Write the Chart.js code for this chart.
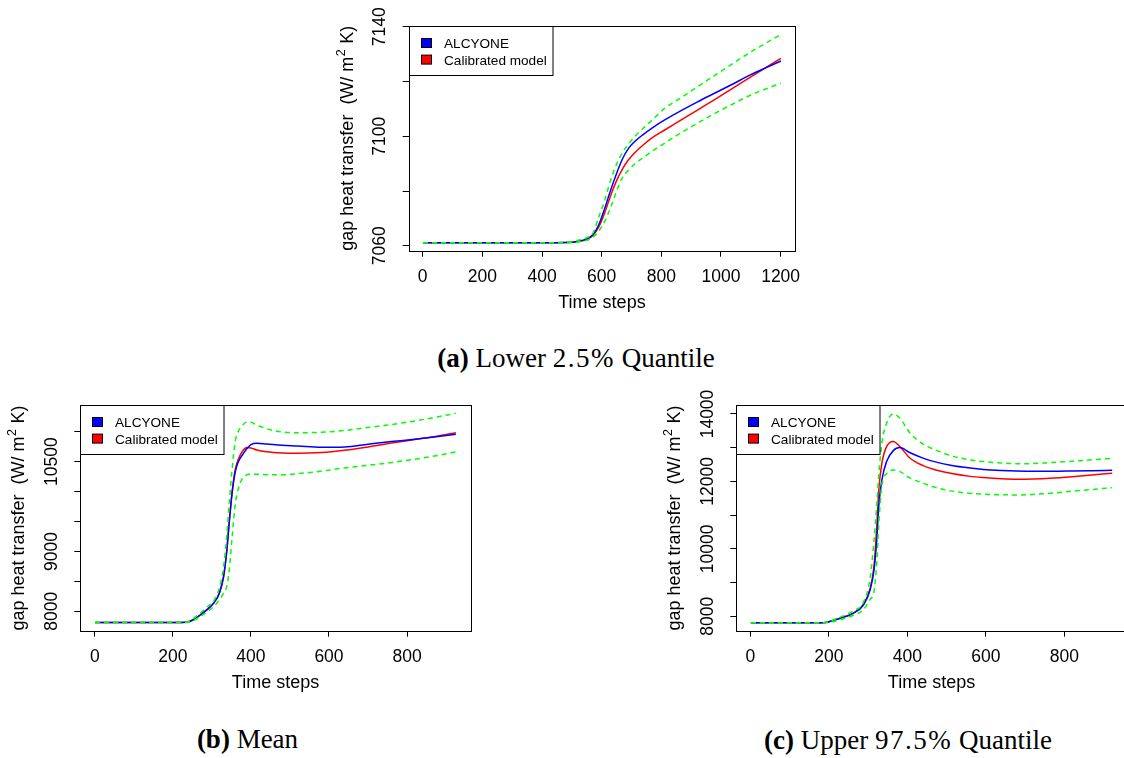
<!DOCTYPE html>
<html>
<head>
<meta charset="utf-8">
<script src="https://cdn.jsdelivr.net/npm/chart.js@4.4.1/dist/chart.umd.min.js"></script>
<style>
html,body{margin:0;padding:0;background:#fff;overflow:hidden;width:1124px;height:758px;position:relative}
.panel{position:absolute}
.panel canvas{display:block}
.cap{position:absolute;font-family:"Liberation Serif","Times New Roman",serif;font-size:27px;line-height:30px;color:#000;white-space:nowrap;transform:translateX(-50%)}
.cap .m{letter-spacing:1.5px}
</style>
</head>
<body>
<div class="panel" style="left:330px;top:0px;width:480px;height:320px"><canvas id="chartA" width="480" height="320"></canvas></div>
<div class="panel" style="left:0px;top:390px;width:490px;height:320px"><canvas id="chartB" width="490" height="320"></canvas></div>
<div class="panel" style="left:650px;top:390px;width:490px;height:320px"><canvas id="chartC" width="490" height="320"></canvas></div>
<div class="cap" style="left:576px;top:343.2px"><b>(a)</b> Lower <span class="m">2.5%</span> Quantile</div>
<div class="cap" style="left:247.5px;top:724.2px"><b>(b)</b> Mean</div>
<div class="cap" style="left:908px;top:725.2px"><b>(c)</b> Upper <span class="m">97.5%</span> Quantile</div>
<script>
// ---------- shared text ----------
const legendLabels = ['ALCYONE', 'Calibrated model'];
const xTitle = 'Time steps';
const yTitleMain = 'gap heat transfer  (W/ m';
const yTitleSup = '2';
const yTitleTail = ' K)';

// ---------- panel (a): Lower 2.5% quantile ----------
const timeA = [1,100,200,300,400,480,520,550,570,590,610,630,650,670,690,710,740,770,810,860,920,980,1040,1100,1150,1201];
const alcyoneA = [7061.1,7061.1,7061.1,7061.1,7061.1,7061.2,7061.6,7062.5,7064.0,7067.6,7073.6,7080.3,7086.4,7091.8,7095.6,7098.0,7100.7,7103.1,7105.9,7109.0,7112.5,7115.8,7119.1,7122.5,7125.0,7127.5];
const calibratedA = [7061.1,7061.1,7061.1,7061.1,7061.1,7061.2,7061.6,7062.3,7063.7,7066.8,7072.0,7078.3,7083.8,7088.1,7091.4,7093.9,7096.9,7099.5,7102.2,7105.5,7109.5,7113.5,7117.6,7121.7,7125.1,7128.5];
const upperA = [7061.1,7061.1,7061.1,7061.1,7061.1,7061.3,7062.0,7063.0,7064.4,7070.5,7076.5,7084.0,7089.8,7094.1,7097.2,7099.8,7103.0,7106.0,7110.1,7113.7,7118.0,7122.3,7126.6,7130.8,7134.0,7137.2];
const lowerA = [7061.1,7061.1,7061.1,7061.1,7061.1,7061.1,7061.4,7062.0,7063.0,7065.3,7068.9,7074.0,7080.0,7085.0,7087.6,7089.8,7092.2,7094.6,7097.4,7100.9,7104.7,7108.4,7111.8,7115.1,7117.3,7119.4];
const xTicksA = [0,200,400,600,800,1000,1200];
const yTicksA = [7060,7080,7100,7120,7140];
const yLabelsA = ['7060','','7100','','7140'];

// ---------- panel (b): Mean ----------
const timeB = [1,100,200,235,250,270,290,305,320,330,338,345,352,360,368,378,390,400,415,440,480,520,580,640,700,760,820,880,925];
const alcyoneB = [7815,7815,7815,7818,7850,7938,8040,8140,8320,8580,9000,9520,9980,10330,10500,10610,10720,10785,10806,10795,10775,10762,10740,10745,10790,10835,10875,10920,10957];
const calibratedB = [7815,7815,7815,7818,7850,7938,8040,8140,8320,8580,9000,9530,10010,10370,10545,10670,10735,10728,10694,10665,10645,10640,10652,10690,10745,10810,10870,10930,10983];
const upperB = [7815,7815,7815,7820,7870,7970,8085,8175,8411,8750,9250,9850,10380,10840,11010,11100,11165,11160,11112,11050,10995,10983,10990,11020,11070,11120,11180,11250,11307];
const lowerB = [7815,7815,7815,7815,7835,7910,8000,8080,8200,8300,8411,8720,9250,9790,10054,10215,10280,10293,10290,10282,10280,10300,10340,10395,10440,10485,10540,10605,10661];
const xTicksB = [0,200,400,600,800];
const yTicksB = [8000,8500,9000,9500,10000,10500,11000];
const yLabelsB = ['8000','','9000','','','10500',''];

// ---------- panel (c): Upper 97.5% quantile ----------
const timeC = [1,100,186,200,229,262,288,305,315,322,327,335,347,364,381,407,440,466,510,560,594,640,679,720,764,820,870,922];
const alcyoneC = [7810,7810,7810,7840,7941,8089,8335,8780,9374,10264,11252,12045,12588,12914,13003,12850,12690,12595,12480,12395,12355,12325,12310,12303,12303,12310,12320,12332];
const calibratedC = [7810,7810,7810,7840,7945,8095,8350,8820,9500,10659,11748,12540,13033,13185,13033,12688,12470,12360,12240,12150,12115,12082,12068,12075,12095,12140,12190,12243];
const upperC = [7810,7810,7810,7850,7975,8160,8420,9130,10250,11300,12180,13134,13727,14003,13875,13430,13110,12960,12770,12635,12590,12545,12525,12530,12558,12600,12640,12688];
const lowerC = [7810,7810,7810,7820,7900,8030,8200,8500,8750,9600,10700,11900,12230,12340,12290,12100,11950,11840,11720,11645,11622,11605,11600,11615,11650,11710,11760,11816];
const xTicksC = [0,200,400,600,800];
const yTicksC = [8000,9000,10000,11000,12000,13000,14000];
const yLabelsC = ['8000','','10000','','12000','','14000'];

// ---------- drawing ----------
const FONT = '"Liberation Sans", Arial, Helvetica, sans-serif';

function pts(t, v) { return t.map((x, i) => ({ x: x, y: v[i] })); }

function decorPlugin(p) {
  return {
    id: 'decor',
    afterDraw(chart) {
      const ctx = chart.ctx;
      const ca = chart.chartArea;
      const ys = chart.scales.y;
      ctx.save();
      // plot box
      const L = Math.round(ca.left) + 0.5, T = Math.round(ca.top) + 0.5;
      const R = Math.round(ca.right) + 0.5, B = Math.round(ca.bottom) + 0.5;
      ctx.strokeStyle = '#000'; ctx.lineWidth = 1;
      ctx.strokeRect(L, T, R - L, B - T);
      // y tick labels (rotated)
      ctx.fillStyle = '#000';
      ctx.font = '17.5px ' + FONT;
      ctx.textAlign = 'center'; ctx.textBaseline = 'alphabetic';
      p.yTicks.forEach((v, i) => {
        const lab = p.yLabels[i];
        if (!lab) return;
        const py = ys.getPixelForValue(v);
        ctx.save(); ctx.translate(ca.left - 23.5, py); ctx.rotate(-Math.PI / 2);
        ctx.fillText(lab, 0, 0); ctx.restore();
      });
      // x title
      ctx.font = '18px ' + FONT;
      ctx.fillText(xTitle, (ca.left + ca.right) / 2, ca.bottom + 57.5);
      // y title with superscript
      ctx.font = '18px ' + FONT;
      const w1 = ctx.measureText(yTitleMain).width;
      const w3 = ctx.measureText(yTitleTail).width;
      ctx.font = '12.5px ' + FONT;
      const w2 = ctx.measureText(yTitleSup).width + 1;
      const total = w1 + w2 + w3;
      ctx.save();
      ctx.translate(ca.left - 56, (ca.top + ca.bottom) / 2);
      ctx.rotate(-Math.PI / 2);
      ctx.textAlign = 'left';
      let cx = -total / 2;
      ctx.font = '18px ' + FONT; ctx.fillText(yTitleMain, cx, 0); cx += w1;
      ctx.font = '12.5px ' + FONT; ctx.fillText(yTitleSup, cx + 0.5, -8); cx += w2;
      ctx.font = '18px ' + FONT; ctx.fillText(yTitleTail, cx, 0);
      ctx.restore();
      // legend
      const lx = Math.round(ca.left) + 0.5, ly = Math.round(ca.top) + 0.5;
      ctx.fillStyle = '#fff';
      ctx.fillRect(lx, ly, 143.5, 49);
      ctx.strokeStyle = '#000';
      ctx.strokeRect(lx, ly, 143.5, 49);
      const cols = [chart.data.datasets[2].borderColor, chart.data.datasets[3].borderColor];
      ctx.font = '13.6px ' + FONT;
      ctx.textAlign = 'left';
      legendLabels.forEach((lab, i) => {
        const sy = ly + 12 + i * 16.6;
        ctx.fillStyle = cols[i];
        ctx.fillRect(lx + 12, sy, 10, 9);
        ctx.strokeStyle = '#000';
        ctx.strokeRect(lx + 12, sy, 10, 9);
        ctx.fillStyle = '#000';
        ctx.fillText(lab, lx + 34.5, ly + 21.5 + i * 16.6);
      });
      ctx.restore();
    }
  };
}

function makeChart(id, p) {
  const line = (data, color, dash) => ({
    data: data, borderColor: color, borderWidth: 1.5, borderDash: dash || [],
    pointRadius: 0, fill: false, cubicInterpolationMode: 'monotone'
  });
  const tickGrid = { drawOnChartArea: false, drawTicks: true, tickLength: 6, color: '#000', lineWidth: 1 };
  return new Chart(document.getElementById(id), {
    type: 'line',
    data: {
      datasets: [
        line(pts(p.time, p.upper), '#00ff00', [5, 4]),
        line(pts(p.time, p.lower), '#00ff00', [5, 4]),
        Object.assign(line(pts(p.time, p.alcyone), '#0000ff'), { label: legendLabels[0] }),
        Object.assign(line(pts(p.time, p.calibrated), '#ff0000'), { label: legendLabels[1] })
      ]
    },
    options: {
      responsive: false, animation: false, events: [],
      layout: { padding: { left: 0, top: p.padTop, right: p.padRight, bottom: 0 } },
      plugins: { legend: { display: false }, tooltip: { enabled: false } },
      scales: {
        x: {
          type: 'linear', min: p.xMin, max: p.xMax,
          afterBuildTicks: s => { s.ticks = p.xTicks.map(v => ({ value: v })); },
          afterFit: s => { s.height = p.xHeight; },
          grid: tickGrid, border: { display: false },
          ticks: { color: '#000', font: { family: FONT, size: 17.5 }, padding: 9.5, maxRotation: 0, autoSkip: false, callback: v => String(v) }
        },
        y: {
          type: 'linear', min: p.yMin, max: p.yMax,
          afterBuildTicks: s => { s.ticks = p.yTicks.map(v => ({ value: v })); },
          afterFit: s => { s.width = p.yWidth; },
          grid: tickGrid, border: { display: false },
          ticks: { display: false }
        }
      }
    },
    plugins: [decorPlugin(p)]
  });
}

makeChart('chartA', {
  time: timeA, alcyone: alcyoneA, calibrated: calibratedA, upper: upperA, lower: lowerA,
  xTicks: xTicksA, yTicks: yTicksA, yLabels: yLabelsA,
  xMin: -47, xMax: 1249, yMin: 7058.2, yMax: 7140.4,
  yWidth: 78.7, xHeight: 69.3, padTop: 25.7, padRight: 11
});
makeChart('chartB', {
  time: timeB, alcyone: alcyoneB, calibrated: calibratedB, upper: upperB, lower: lowerB,
  xTicks: xTicksB, yTicks: yTicksB, yLabels: yLabelsB,
  xMin: -37, xMax: 963, yMin: 7676, yMax: 11441,
  yWidth: 80.3, xHeight: 79.3, padTop: 15.3, padRight: 19.3
});
makeChart('chartC', {
  time: timeC, alcyone: alcyoneC, calibrated: calibratedC, upper: upperC, lower: lowerC,
  xTicks: xTicksC, yTicks: yTicksC, yLabels: yLabelsC,
  xMin: -36, xMax: 959, yMin: 7573, yMax: 14258,
  yWidth: 86.3, xHeight: 79.3, padTop: 15.3, padRight: 13.3
});
</script>
</body>
</html>
